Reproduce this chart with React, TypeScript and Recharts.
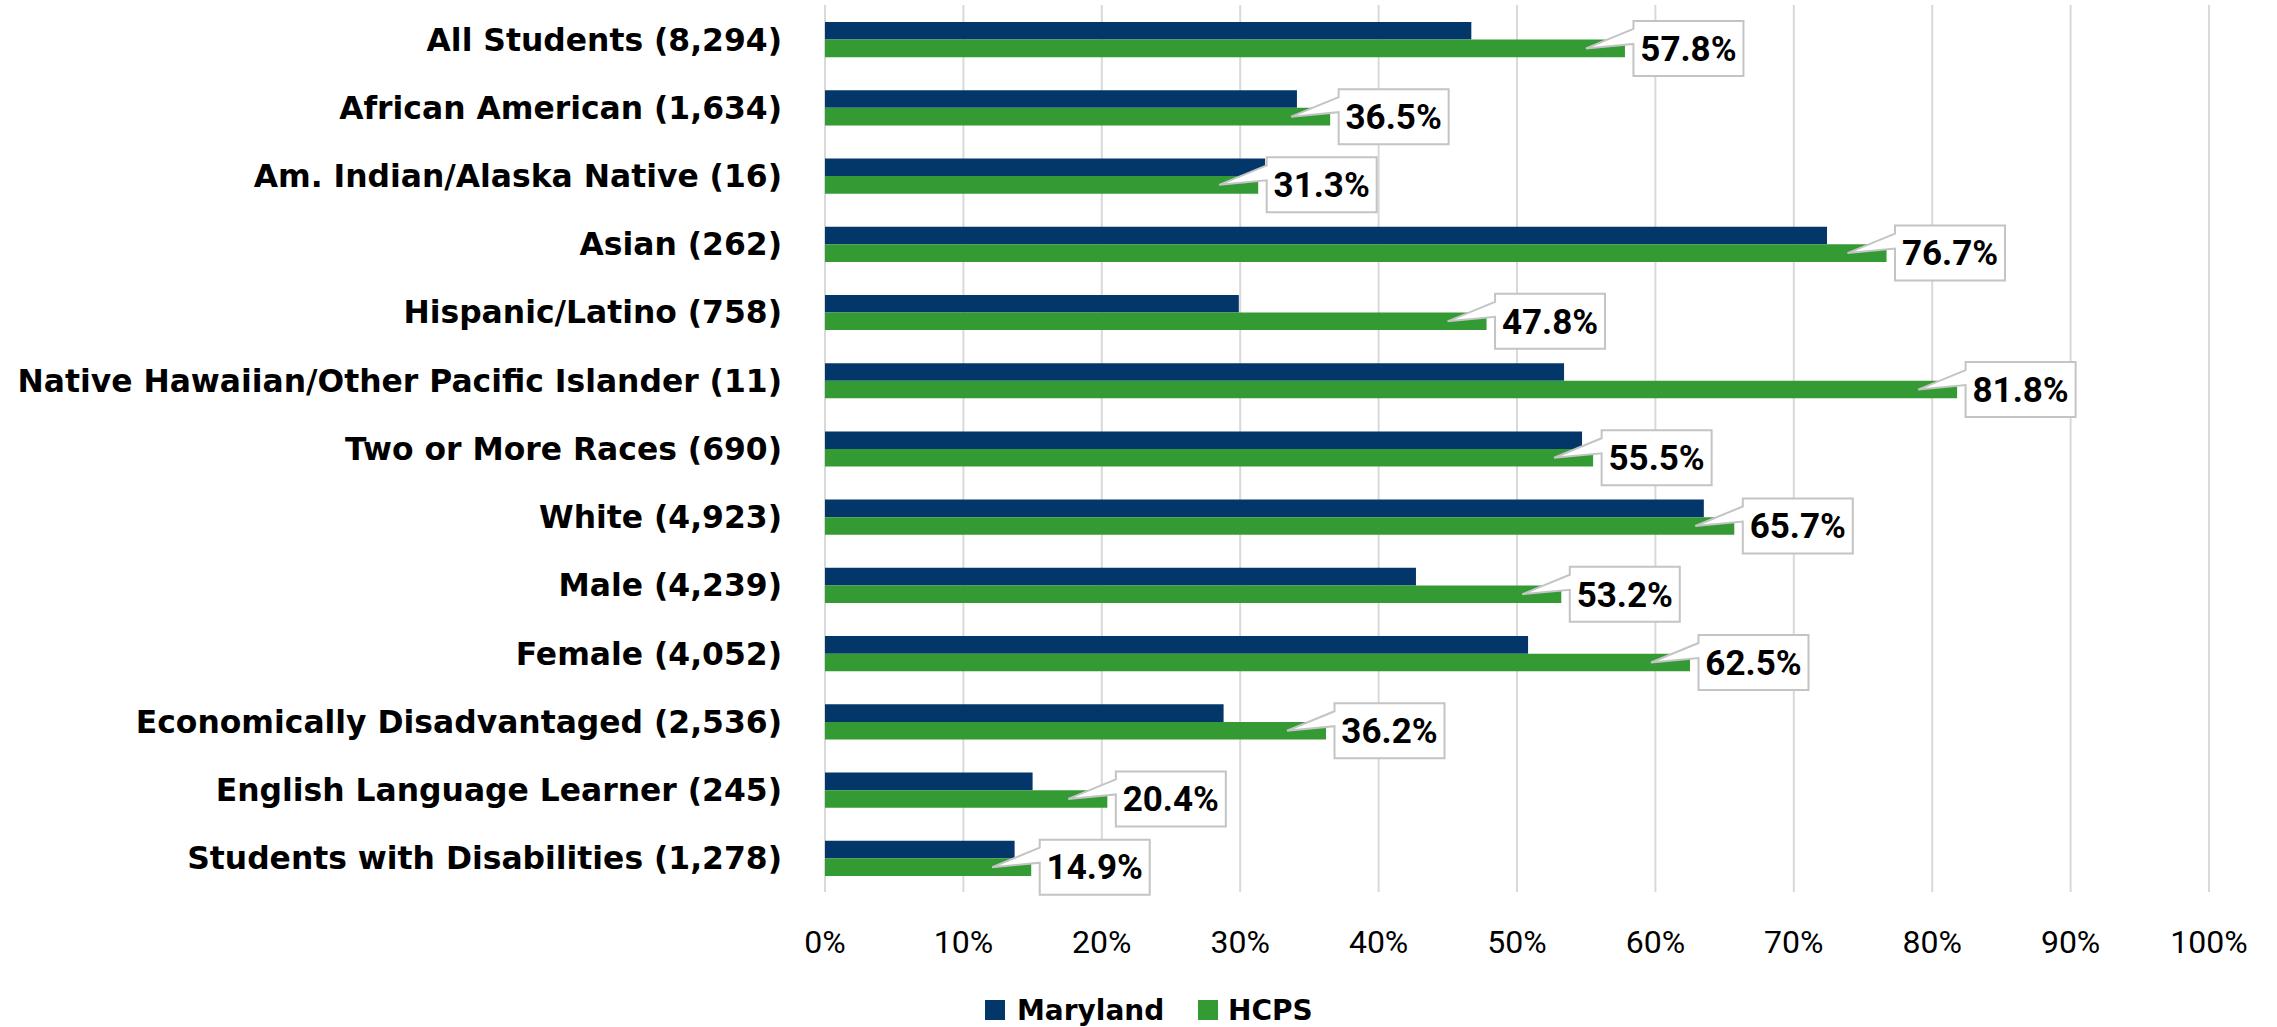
import React from "react";
import { BarChart, Bar, XAxis, YAxis, CartesianGrid, LabelList } from "recharts";

const categories = [
  "All Students (8,294)",
  "African American (1,634)",
  "Am. Indian/Alaska Native (16)",
  "Asian (262)",
  "Hispanic/Latino (758)",
  "Native Hawaiian/Other Pacific Islander (11)",
  "Two or More Races (690)",
  "White (4,923)",
  "Male (4,239)",
  "Female (4,052)",
  "Economically Disadvantaged (2,536)",
  "English Language Learner (245)",
  "Students with Disabilities (1,278)",
];

const marylandValues = [46.7, 34.1, 31.8, 72.4, 29.9, 53.4, 54.7, 63.5, 42.7, 50.8, 28.8, 15.0, 13.7];
const hcpsValues = [57.8, 36.5, 31.3, 76.7, 47.8, 81.8, 55.5, 65.7, 53.2, 62.5, 36.2, 20.4, 14.9];

const xTicks = [0, 10, 20, 30, 40, 50, 60, 70, 80, 90, 100];

const seriesNames = ["Maryland", "HCPS"];
const seriesColors = ["#03376A", "#349A34"];

const data = categories.map((name, i) => ({
  name,
  maryland: marylandValues[i],
  hcps: hcpsValues[i],
}));

const W = 2277;
const H = 1027;

const XTick = (props: any) => {
  const { x, y, payload } = props;
  return (
    <text
      x={x}
      y={y + 61}
      textAnchor="middle"
      fontFamily="Roboto, sans-serif"
      fontSize={32}
      fill="#000"
    >
      {`${payload.value}%`}
    </text>
  );
};

const YTick = (props: any) => {
  const { x, y, payload } = props;
  return (
    <text
      x={x - 43}
      y={y + 11.4}
      textAnchor="end"
      fontFamily="'DejaVu Sans', sans-serif"
      fontWeight="bold"
      fontSize={31.4}
      fill="#000"
    >
      {payload.value}
    </text>
  );
};

const Callout = (props: any) => {
  const vb = props.viewBox || {};
  const x = props.x ?? vb.x;
  const y = props.y ?? vb.y;
  const width = props.width ?? vb.width;
  const height = props.height ?? vb.height;
  const value = props.value;
  if (x == null || y == null) return null;
  const ex = x + width;
  const cy = y + height / 2;
  const bw = 110;
  const bh = 55;
  const bx = ex + 8.5;
  const by = cy - bh / 2;
  const tipX = ex - 39;
  const d = `M ${bx} ${by} L ${bx + bw} ${by} L ${bx + bw} ${by + bh} L ${bx} ${by + bh} L ${bx} ${cy - 4.5} L ${tipX} ${cy} L ${bx} ${by + 8} Z`;
  return (
    <g>
      <path d={d} fill="#fff" stroke="#C4C4C4" strokeWidth={2} strokeLinejoin="miter" />
      <text
        x={bx + bw / 2}
        y={cy + 12.3}
        textAnchor="middle"
        fontFamily="Roboto, sans-serif"
        fontWeight="bold"
        fontSize={35}
        fill="#000"
      >
        {`${Number(value).toFixed(1)}%`}
      </text>
    </g>
  );
};

export default function App() {
  return (
    <div style={{ position: "absolute", left: 0, top: 0, width: W, height: H, background: "#fff" }}>
      <BarChart
        width={W}
        height={H}
        data={data}
        layout="vertical"
        margin={{ top: 5, right: 68, left: 0, bottom: 0 }}
        barGap={0}
        barSize={17.6}
      >
        <CartesianGrid horizontal={false} vertical={true} stroke="#D9D9D9" strokeWidth={2} />
        <XAxis
          type="number"
          domain={[0, 100]}
          ticks={xTicks}
          axisLine={false}
          tickLine={false}
          tickSize={0}
          tickMargin={0}
          height={135}
          tick={<XTick />}
          interval={0}
        />
        <YAxis
          type="category"
          dataKey="name"
          width={825}
          axisLine={false}
          tickLine={false}
          tickSize={0}
          tickMargin={0}
          tick={<YTick />}
          interval={0}
        />
        <Bar dataKey="maryland" name={seriesNames[0]} fill={seriesColors[0]} isAnimationActive={false} />
        <Bar dataKey="hcps" name={seriesNames[1]} fill={seriesColors[1]} isAnimationActive={false}>
          <LabelList dataKey="hcps" content={<Callout />} />
        </Bar>
      </BarChart>
      <svg
        width={W}
        height={40}
        style={{ position: "absolute", left: 0, top: 990 }}
      >
        <rect x={985} y={10} width={20} height={20} fill={seriesColors[0]} />
        <text x={1017} y={30} fontFamily="'DejaVu Sans', sans-serif" fontWeight="bold" fontSize={28} fill="#000">
          {seriesNames[0]}
        </text>
        <rect x={1198} y={10} width={20} height={20} fill={seriesColors[1]} />
        <text x={1228} y={30} fontFamily="'DejaVu Sans', sans-serif" fontWeight="bold" fontSize={28} fill="#000">
          {seriesNames[1]}
        </text>
      </svg>
    </div>
  );
}
